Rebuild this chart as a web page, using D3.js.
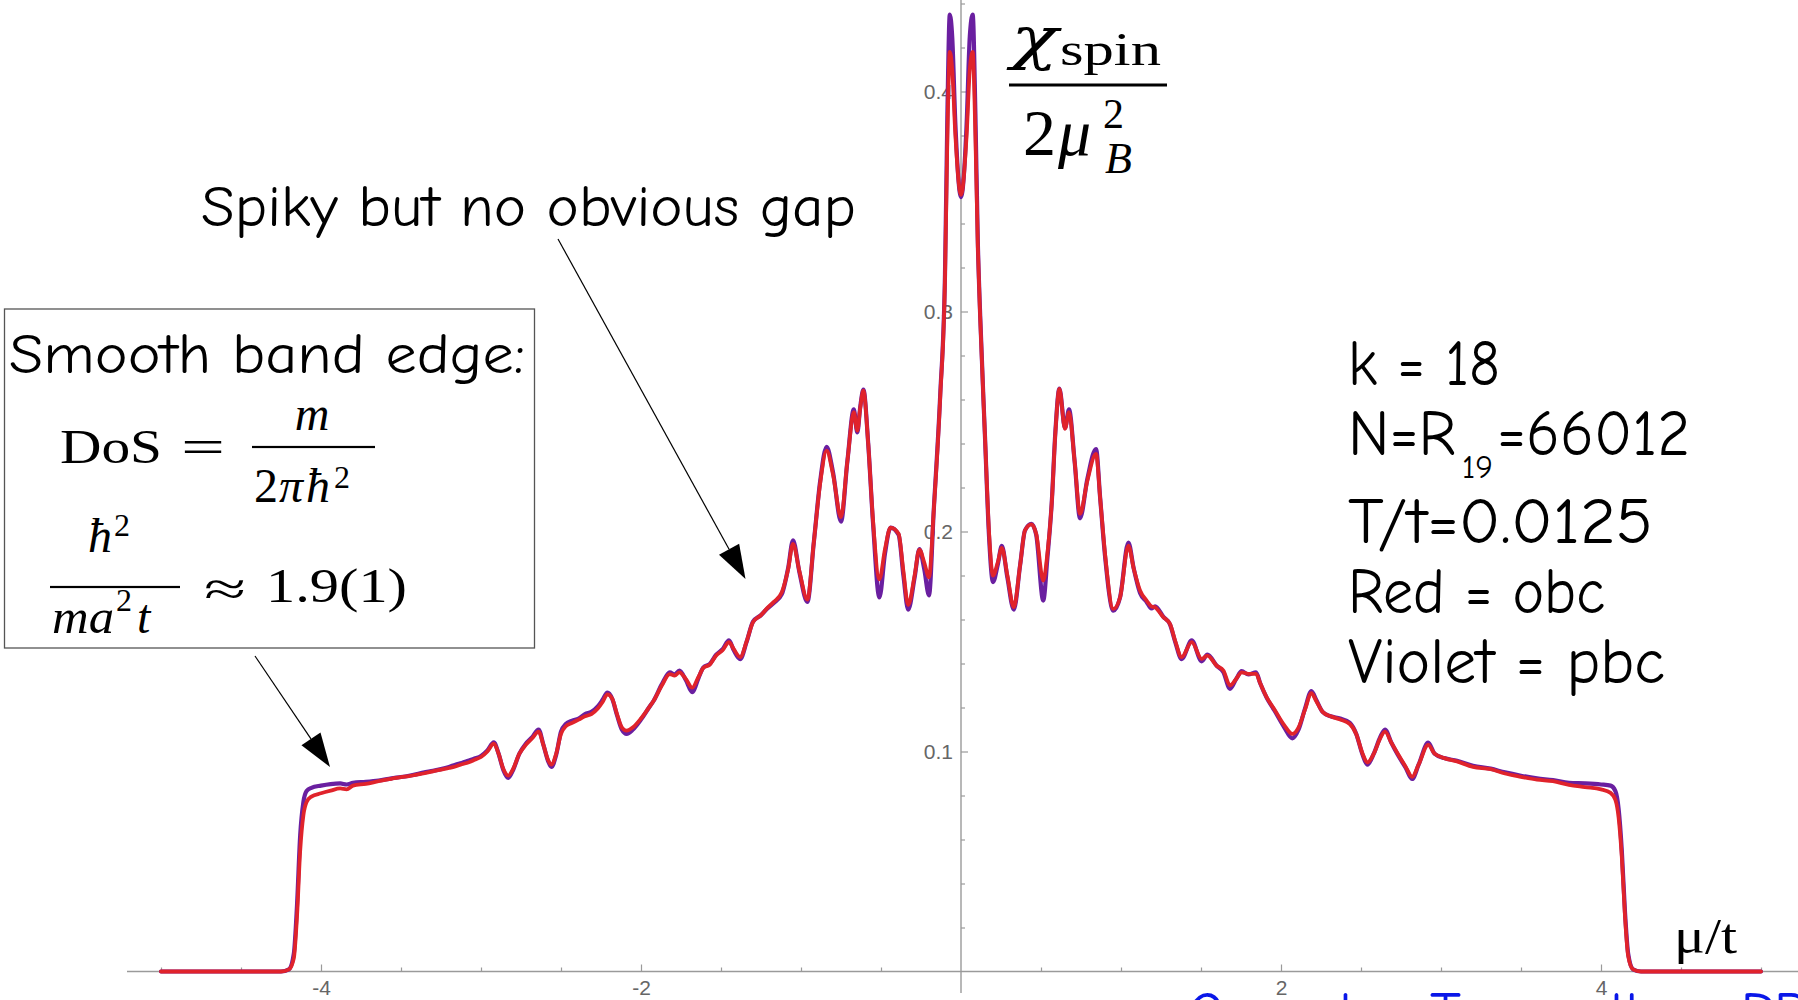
<!DOCTYPE html>
<html>
<head>
<meta charset="utf-8">
<script src="https://cdn.jsdelivr.net/npm/d3@7"></script>
<style>
  html, body { margin: 0; padding: 0; background: #fff; overflow: hidden; }
  svg { display: block; }
</style>
</head>
<body>
<svg id="chart" width="1798" height="1000"></svg>
<script>
// Chemical potential grid (mu / t)
const mu = [
  -5.00, -4.60, -4.25, -4.20, -4.17, -4.15, -4.13, -4.11, -4.09, -4.06, -4.00, -3.94, -3.88, -3.84, -3.80,
  -3.72, -3.64, -3.56, -3.50, -3.45, -3.40, -3.36, -3.30, -3.25, -3.20, -3.16, -3.12, -3.08, -3.04, -3.00,
  -2.96, -2.92, -2.89, -2.86, -2.83, -2.80, -2.76, -2.72, -2.68, -2.64, -2.61, -2.58, -2.56, -2.53, -2.50,
  -2.47, -2.43, -2.39, -2.35, -2.31, -2.27, -2.24, -2.21, -2.18, -2.15, -2.12, -2.09, -2.05, -2.00, -1.95,
  -1.92, -1.87, -1.82, -1.79, -1.76, -1.72, -1.68, -1.64, -1.61, -1.57, -1.53, -1.49, -1.45, -1.42, -1.38,
  -1.34, -1.30, -1.25, -1.21, -1.17, -1.12, -1.08, -1.05, -1.01, -0.96, -0.92, -0.88, -0.84, -0.80, -0.75,
  -0.71, -0.67, -0.648, -0.63, -0.61, -0.58, -0.55, -0.51, -0.475, -0.44, -0.39, -0.36, -0.33, -0.29, -0.26,
  -0.23, -0.20, -0.17, -0.13, -0.10, -0.085, -0.07, -0.055, -0.035, 0.00,
  0.035, 0.055, 0.073, 0.09, 0.105, 0.12, 0.15, 0.175, 0.20, 0.23, 0.255, 0.29, 0.33, 0.37, 0.40,
  0.44, 0.47, 0.514, 0.54, 0.567, 0.59, 0.615, 0.65, 0.675, 0.71, 0.744, 0.79, 0.844, 0.87, 0.90,
  0.952, 0.994, 1.046, 1.08, 1.119, 1.16, 1.19, 1.213, 1.265, 1.306, 1.34, 1.379, 1.442, 1.504, 1.54,
  1.598, 1.64, 1.681, 1.72, 1.754, 1.796, 1.844, 1.87, 1.91, 1.96, 2.02, 2.07, 2.11, 2.15, 2.19,
  2.22, 2.26, 2.31, 2.37, 2.43, 2.47, 2.51, 2.54, 2.58, 2.62, 2.65, 2.69, 2.73, 2.78, 2.82,
  2.86, 2.92, 2.96, 3.02, 3.10, 3.20, 3.31, 3.40, 3.50, 3.60, 3.70, 3.80, 3.90, 4.00, 4.06,
  4.09, 4.11, 4.13, 4.15, 4.17, 4.20, 4.25, 4.60, 5.00
];

// Red: open boundary conditions
const obc = [
  0, 0, 0, 0.001, 0.006, 0.025, 0.055, 0.071, 0.077, 0.0795, 0.0810, 0.0822, 0.0832, 0.0828, 0.0845,
  0.0853, 0.0865, 0.0876, 0.0884, 0.0888, 0.0895, 0.0900, 0.0910, 0.0918, 0.0925, 0.0932, 0.0942, 0.0950, 0.0962, 0.0975,
  0.1000, 0.1036, 0.0990, 0.0920, 0.0890, 0.0920, 0.0990, 0.1030, 0.1060, 0.1090, 0.1030, 0.0960, 0.0940, 0.0990, 0.1080,
  0.1115, 0.1130, 0.1145, 0.1160, 0.1170, 0.1195, 0.1225, 0.1260, 0.1240, 0.1170, 0.1110, 0.1095, 0.1110, 0.1150, 0.1200,
  0.1232, 0.1300, 0.1352, 0.1345, 0.1360, 0.1330, 0.1290, 0.1340, 0.1380, 0.1395, 0.1436, 0.1460, 0.1497, 0.1465, 0.1429,
  0.1500, 0.1588, 0.1620, 0.1653, 0.1680, 0.1724, 0.1830, 0.1944, 0.1820, 0.1690, 0.1950, 0.2220, 0.2368, 0.2260, 0.2065,
  0.2320, 0.2542, 0.2459, 0.2560, 0.2640, 0.2400, 0.2050, 0.1783, 0.1920, 0.2018, 0.1990, 0.1820, 0.1666, 0.1800, 0.1918,
  0.1860, 0.1792, 0.2100, 0.2610, 0.3150, 0.3800, 0.4180, 0.4100, 0.3800, 0.3530,
  0.3800, 0.4100, 0.4180, 0.3800, 0.3300, 0.2970, 0.2430, 0.2000, 0.1800, 0.1860, 0.1925, 0.1800, 0.1656, 0.1850, 0.2005,
  0.2032, 0.1990, 0.1777, 0.1900, 0.2127, 0.2450, 0.2648, 0.2467, 0.2542, 0.2320, 0.2080, 0.2232, 0.2353, 0.2150, 0.1900,
  0.1648, 0.1700, 0.1936, 0.1830, 0.1732, 0.1686, 0.1660, 0.1655, 0.1610, 0.1580, 0.1500, 0.1429, 0.1497, 0.1421, 0.1436,
  0.1390, 0.1368, 0.1300, 0.1330, 0.1360, 0.1353, 0.1353, 0.1310, 0.1247, 0.1190, 0.1120, 0.1080, 0.1110, 0.1190, 0.1265,
  0.1230, 0.1180, 0.1160, 0.1145, 0.1125, 0.1080, 0.0990, 0.0950, 0.0990, 0.1060, 0.1090, 0.1040, 0.0990, 0.0930, 0.0885,
  0.0940, 0.1030, 0.0990, 0.0970, 0.0955, 0.0930, 0.0920, 0.0900, 0.0885, 0.0872, 0.0865, 0.0848, 0.0838, 0.0828, 0.0812,
  0.0780, 0.0700, 0.0520, 0.0250, 0.0070, 0.0010, 0, 0, 0
];

// Violet: periodic boundary conditions
const pbc = [
  0, 0, 0, 0.001, 0.008, 0.030, 0.062, 0.077, 0.082, 0.0835, 0.0845, 0.0852, 0.0855, 0.0850, 0.0858,
  0.0862, 0.0868, 0.0878, 0.0884, 0.0890, 0.0897, 0.0904, 0.0912, 0.0920, 0.0930, 0.0940, 0.0948, 0.0958, 0.0968, 0.0980,
  0.1005, 0.1042, 0.0990, 0.0915, 0.0880, 0.0915, 0.0990, 0.1035, 0.1065, 0.1100, 0.1030, 0.0955, 0.0930, 0.0985, 0.1090,
  0.1125, 0.1140, 0.1150, 0.1170, 0.1180, 0.1205, 0.1235, 0.1268, 0.1240, 0.1165, 0.1100, 0.1080, 0.1100, 0.1145, 0.1200,
  0.1232, 0.1305, 0.1360, 0.1350, 0.1368, 0.1325, 0.1270, 0.1335, 0.1382, 0.1398, 0.1440, 0.1465, 0.1505, 0.1460, 0.1420,
  0.1498, 0.1590, 0.1620, 0.1650, 0.1675, 0.1715, 0.1835, 0.1960, 0.1815, 0.1680, 0.1950, 0.2230, 0.2385, 0.2270, 0.2045,
  0.2320, 0.2555, 0.2450, 0.2565, 0.2645, 0.2400, 0.2040, 0.1700, 0.1900, 0.2018, 0.1985, 0.1800, 0.1645, 0.1790, 0.1920,
  0.1830, 0.1710, 0.2100, 0.2620, 0.3170, 0.3900, 0.4350, 0.4250, 0.3850, 0.3520,
  0.3850, 0.4250, 0.4350, 0.3900, 0.3320, 0.2980, 0.2430, 0.1980, 0.1770, 0.1850, 0.1935, 0.1790, 0.1645, 0.1850, 0.2005,
  0.2035, 0.1985, 0.1686, 0.1880, 0.2130, 0.2455, 0.2650, 0.2470, 0.2555, 0.2320, 0.2060, 0.2240, 0.2375, 0.2150, 0.1890,
  0.1640, 0.1700, 0.1950, 0.1830, 0.1720, 0.1680, 0.1650, 0.1660, 0.1612, 0.1578, 0.1495, 0.1420, 0.1505, 0.1410, 0.1440,
  0.1390, 0.1360, 0.1285, 0.1330, 0.1365, 0.1350, 0.1360, 0.1310, 0.1245, 0.1185, 0.1110, 0.1060, 0.1100, 0.1195, 0.1275,
  0.1235, 0.1180, 0.1160, 0.1150, 0.1130, 0.1080, 0.0985, 0.0940, 0.0990, 0.1065, 0.1100, 0.1040, 0.0985, 0.0925, 0.0875,
  0.0940, 0.1040, 0.0990, 0.0970, 0.0958, 0.0935, 0.0922, 0.0905, 0.0890, 0.0878, 0.0870, 0.0858, 0.0855, 0.0850, 0.0845,
  0.0820, 0.0740, 0.0550, 0.0270, 0.0080, 0.0010, 0, 0, 0
];

const xMajorTicks = [-4, -2, 2, 4];
const yMajorTicks = [0.1, 0.2, 0.3, 0.4];
const infoLines = ["k = 18", "T/t=0.0125", "Red = obc", "Violet = pbc"];

const RED = "#e0232b";
const VIOLET = "#6a1fa0";
const AXIS = "#9a9a9a";
const LABEL = "#666";
const COMIC = "'Comic Sans MS', 'Comic Neue', 'Open Sans', sans-serif";
const SERIF = "'Liberation Serif', 'DejaVu Serif', serif";
const GREEK = "'DejaVu Serif', 'Liberation Serif', serif";

const svg = d3.select("#chart");
const x = d3.scaleLinear().domain([-5, 5]).range([161, 1761]);
const y = d3.scaleLinear().domain([0, 0.44]).range([971.5, 3.5]);

// ---- axes ----
const axisG = svg.append("g");
axisG.append("line")
  .attr("x1", 127).attr("x2", 1798).attr("y1", y(0)).attr("y2", y(0))
  .attr("stroke", AXIS).attr("stroke-width", 1.4);
axisG.append("line")
  .attr("x1", x(0)).attr("x2", x(0)).attr("y1", 0).attr("y2", 993)
  .attr("stroke", AXIS).attr("stroke-width", 1.4);

const xMinor = d3.range(-10, 11).map(d => d / 2).filter(d => d !== 0 && !xMajorTicks.includes(d));
const yMinor = d3.range(1, 23).map(d => +(d * 0.02).toFixed(2)).filter(d => !yMajorTicks.some(t => Math.abs(t - d) < 1e-9));

function styleAxis(g) {
  g.select(".domain").remove();
  g.selectAll(".tick line").attr("stroke", AXIS).attr("stroke-width", 1.2);
  g.selectAll(".tick text")
    .attr("fill", LABEL)
    .style("font-family", "'Liberation Sans Narrow', 'Liberation Sans', Arial, sans-serif")
    .style("font-size", "21px");
}

axisG.append("g").attr("transform", `translate(0,${y(0)})`)
  .call(d3.axisBottom(x).tickValues(xMinor).tickSizeInner(-4).tickSizeOuter(0).tickFormat(""))
  .call(styleAxis);
axisG.append("g").attr("transform", `translate(0,${y(0)})`)
  .call(d3.axisBottom(x).tickValues(xMajorTicks).tickSizeInner(-7).tickSizeOuter(0)
        .tickPadding(9).tickFormat(d => String(d)))
  .call(styleAxis);

axisG.append("g").attr("transform", `translate(${x(0)},0)`)
  .call(d3.axisLeft(y).tickValues(yMinor).tickSizeInner(-4).tickSizeOuter(0).tickFormat(""))
  .call(styleAxis);
axisG.append("g").attr("transform", `translate(${x(0)},0)`)
  .call(d3.axisLeft(y).tickValues(yMajorTicks).tickSizeInner(-7).tickSizeOuter(0)
        .tickPadding(8).tickFormat(d3.format(".1f")))
  .call(styleAxis);

// ---- curves ----
const line = vals => d3.line()
  .x((d, i) => x(mu[i]))
  .y(d => y(d))
  .curve(d3.curveMonotoneX)(vals);

svg.append("path").attr("d", line(pbc))
  .attr("fill", "none").attr("stroke", VIOLET).attr("stroke-width", 4.2)
  .attr("stroke-linejoin", "round").attr("stroke-linecap", "round");
svg.append("path").attr("d", line(obc))
  .attr("fill", "none").attr("stroke", RED).attr("stroke-width", 3.8)
  .attr("stroke-linejoin", "round").attr("stroke-linecap", "round");

// ---- text helpers ----
function txt(px, py, str, o = {}) {
  const t = svg.append("text")
    .attr("x", px).attr("y", py)
    .style("font-family", o.family || SERIF)
    .style("font-size", (o.size || 48) + "px")
    .style("font-style", o.italic ? "italic" : "normal")
    .style("font-weight", o.weight || "normal")
    .attr("fill", o.fill || "#000")
    .text(str);
  if (o.anchor) t.attr("text-anchor", o.anchor);
  if (o.len) t.attr("textLength", o.len).attr("lengthAdjust", "spacingAndGlyphs");
  return t;
}
function bar(x1, x2, yy, h) {
  svg.append("rect").attr("x", x1).attr("y", yy - h / 2).attr("width", x2 - x1).attr("height", h).attr("fill", "#000");
}
function arrow(x1, y1, x2, y2) {
  const L = 34, W = 11.5;
  const dx = x2 - x1, dy = y2 - y1, n = Math.hypot(dx, dy);
  const ux = dx / n, uy = dy / n;
  const bx = x2 - ux * L, by = y2 - uy * L;
  svg.append("line").attr("x1", x1).attr("y1", y1).attr("x2", bx).attr("y2", by)
    .attr("stroke", "#000").attr("stroke-width", 1.2);
  svg.append("path")
    .attr("d", `M${x2},${y2}L${bx - uy * W},${by + ux * W}L${bx + uy * W},${by - ux * W}Z`)
    .attr("fill", "#000");
}

// ---- y-axis quantity: chi_spin / (2 mu_B^2) ----
txt(1011, 58, "χ", { family: GREEK, size: 58, italic: true, len: 47 });
txt(1060, 65, "spin", { size: 47, len: 101 });
bar(1009, 1167, 85, 3);
txt(1023, 155, "2", { size: 66 });
txt(1058, 155, "μ", { size: 66, italic: true });
txt(1103, 128, "2", { size: 42 });
txt(1105, 173, "B", { size: 44, italic: true });

// ---- x-axis quantity ----
txt(1674, 953, "μ/t", { size: 50, len: 63 });

// ---- annotation: spiky region ----
txt(201, 226, "Spiky but no obvious gap", { family: COMIC, size: 58, len: 655 });
arrow(558, 239, 745.5, 579);

// ---- annotation: band edge box ----
svg.append("rect").attr("x", 4.5).attr("y", 309).attr("width", 530).attr("height", 339)
  .attr("fill", "none").attr("stroke", "#555").attr("stroke-width", 1.3);
txt(9, 373, "Smooth band edge:", { family: COMIC, size: 57, len: 516 });

txt(60, 463, "DoS", { size: 48, len: 102 });
txt(181, 463, "=", { size: 48, len: 44 });
txt(312, 430, "m", { size: 48, italic: true, anchor: "middle" });
bar(252, 375, 447, 2.2);
txt(254, 502, "2", { size: 48 });
txt(279, 502, "π", { size: 48, italic: true });
txt(306, 502, "ħ", { size: 48, italic: true });
txt(334, 488, "2", { size: 32 });

txt(88, 552, "ħ", { size: 48, italic: true });
txt(114, 536, "2", { size: 32 });
bar(50, 180, 587, 2.2);
txt(52, 633, "ma", { size: 48, italic: true, len: 62 });
txt(116, 611, "2", { size: 32 });
txt(137, 633, "t", { size: 48, italic: true });
txt(204, 605, "≈", { size: 48, len: 42 });
txt(266, 602, "1.9(1)", { size: 48, len: 141 });
arrow(255, 656, 330, 767);

// ---- parameter block ----
const infoBase = [385, 543, 613, 683];
const infoLen = [152, 305, 257, 317];
infoLines.forEach((s, i) => txt(1348, infoBase[i], s, { family: COMIC, size: 64, len: infoLen[i] }));
txt(1348, 455, "N=R", { family: COMIC, size: 64, len: 108 });
txt(1462, 478, "19", { family: COMIC, size: 32, len: 31 });
txt(1497, 455, "=66012", { family: COMIC, size: 64, len: 193 });

// ---- footer caption (runs off the bottom edge) ----
txt(1187, 1034, "Open bc: Tamer than PBC", { family: COMIC, size: 60, fill: "#0a17e8", len: 660 });
</script>
</body>
</html>
